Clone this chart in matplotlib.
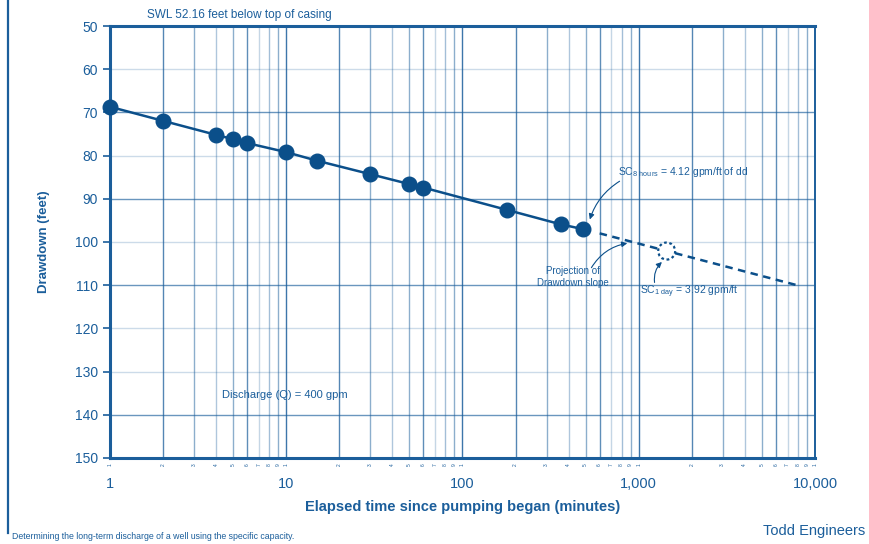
import numpy as np
import matplotlib
matplotlib.use("Agg")
import matplotlib.pyplot as plt
from matplotlib.lines import Line2D
from matplotlib.transforms import blended_transform_factory

plt.rcParams['font.family'] = ['Liberation Sans', 'DejaVu Sans']

BLUE = "#1b5e9b"
DARK = "#0b4f8a"

# pumping test readings (minutes, feet of drawdown)
time_min = [1, 2, 4, 5, 6, 10, 15, 30, 50, 60, 180, 360, 480]
drawdown = [68.7, 71.95, 75.2, 76.2, 77.1, 79.2, 81.2, 84.3, 86.6, 87.4, 92.6, 95.9, 97.0]
# projected slope beyond the test
proj_time = [600, 7900]
proj_dd = [98.0, 110.0]
# one-day point on the projection
day_time = [1440]
day_dd = [102.1]

y_ticks = [50, 60, 70, 80, 90, 100, 110, 120, 130, 140, 150]
x_major = [1, 10, 100, 1000, 10000]
x_major_labels = ["1", "10", "100", "1,000", "10,000"]

fig = plt.figure(figsize=(8.7, 5.44), dpi=100)
ax = fig.add_axes([0.1264, 0.1581, 0.8104, 0.7941])
ax.set_xscale("log")
ax.set_xlim(1, 10000)
ax.set_ylim(150, 50)

# grid: horizontal
dark_rows = {70, 90, 110, 140}
for v in y_ticks[1:-1]:
    ax.axhline(v, color=BLUE, lw=1.0, alpha=0.65 if v in dark_rows else 0.22, zorder=1)
# grid: vertical, shade per digit
shade = {1: 0.85, 2: 0.75, 3: 0.5, 4: 0.35, 5: 0.5, 6: 0.7, 7: 0.25, 8: 0.4, 9: 0.5}
for dec in [1, 10, 100, 1000]:
    for d in range(1, 10):
        v = d * dec
        if v == 1:
            continue
        ax.axvline(v, color=BLUE, lw=1.0, alpha=shade[d], zorder=1)

ax.plot(time_min, drawdown, color=DARK, lw=1.8, zorder=3)
ax.plot(time_min, drawdown, "o", color=DARK, ms=10.5, zorder=4, clip_on=False)
ax.plot(proj_time, proj_dd, color=DARK, lw=1.8, ls=(0, (3, 2.2)), zorder=3)
ax.scatter(day_time, day_dd, s=150, facecolors="white", edgecolors=DARK,
           linewidths=1.6, linestyles=(0, (1.2, 1.2)), zorder=5)

# spines
for s in ["top", "bottom", "left"]:
    ax.spines[s].set_color(BLUE)
    ax.spines[s].set_linewidth(2.2)
ax.spines["right"].set_color(BLUE)
ax.spines["right"].set_linewidth(1.4)

ax.set_yticks(y_ticks)
ax.set_yticklabels([str(v) for v in y_ticks])
ax.tick_params(axis="y", colors=BLUE, labelcolor=BLUE, labelsize=10, length=5, width=1.2)
ax.set_xticks(x_major)
ax.set_xticklabels(x_major_labels)
ax.xaxis.set_minor_locator(matplotlib.ticker.NullLocator())
ax.tick_params(axis="x", colors=BLUE, labelcolor=BLUE, labelsize=10.5, length=0, pad=14)

# tiny digit labels under every gridline
trans = blended_transform_factory(ax.transData, ax.transAxes)
for dec in [1, 10, 100, 1000]:
    for d in range(1, 10):
        ax.text(d * dec, -0.012, str(d), transform=trans, fontsize=3.5, color=BLUE,
                rotation=90, ha="center", va="top")
ax.text(10000, -0.012, "1", transform=trans, fontsize=3.5, color=BLUE,
        rotation=90, ha="center", va="top")

ax.set_ylabel("Drawdown (feet)", color=BLUE, fontsize=9.5, fontweight="bold", labelpad=18)
ax.set_xlabel("Elapsed time since pumping began (minutes)", color=BLUE, fontsize=10.5,
              fontweight="bold", labelpad=6)

ax.text(0.0525, 1.025, "SWL 52.16 feet below top of casing", transform=ax.transAxes,
        color=BLUE, fontsize=8.5, ha="left", va="center")
ax.text(0.159, 0.146, "Discharge (Q) = 400 gpm", transform=ax.transAxes,
        color=BLUE, fontsize=8, ha="left", va="center")

ax.text(763, 83.8, r"SC$_{\mathregular{8\ hours}}$ = 4.12 gpm/ft of dd", color=BLUE,
        fontsize=7.5, ha="left", va="center")
ax.text(424, 108.2, "Projection of\nDrawdown slope", color=BLUE, fontsize=7,
        ha="center", va="center", linespacing=1.25)
ax.text(1016, 111.6, r"SC$_{\mathregular{1\ day}}$ = 3.92 gpm/ft", color=BLUE,
        fontsize=7.5, ha="left", va="center")

arrow = dict(arrowstyle="-|>", color=DARK, lw=0.8, mutation_scale=8)
ax.annotate("", xy=(522, 95.4), xytext=(803, 85.6),
            arrowprops=dict(arrow, connectionstyle="arc3,rad=0.2"))
ax.annotate("", xy=(892, 100.2), xytext=(529, 106.5),
            arrowprops=dict(arrow, connectionstyle="arc3,rad=-0.25"))
ax.annotate("", xy=(1390, 104.2), xytext=(1236, 110.0),
            arrowprops=dict(arrow, connectionstyle="arc3,rad=-0.3"))

# frame line at the left edge of the page
fig.add_artist(Line2D([0.0092, 0.0092], [0.02, 1.0], transform=fig.transFigure,
                      color=BLUE, lw=1.6))

fig.text(0.014, 0.013, "Determining the long-term discharge of a well using the specific capacity.",
         color=BLUE, fontsize=6.3, ha="left", va="center")
fig.text(0.994, 0.024, "Todd Engineers", color=BLUE, fontsize=10.5, ha="right", va="center")

fig.savefig("out.png", dpi=100)
